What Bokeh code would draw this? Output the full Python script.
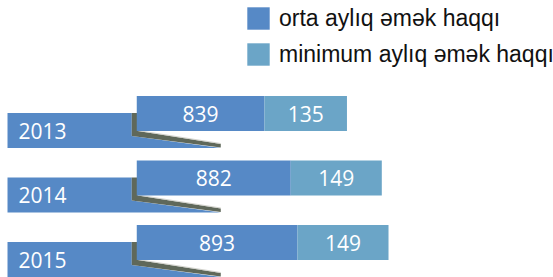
from bokeh.plotting import figure
from bokeh.models import ColumnDataSource, Range1d, Legend, LegendItem
from bokeh.core.properties import value
from bokeh.embed import file_html
from bokeh.resources import INLINE

# ---- data ----
years = [2013, 2014, 2015]
year_labels = ["2013", "2014", "2015"]
avg_wage = [839, 882, 893]      # orta aylıq əmək haqqı
min_wage = [135, 149, 149]      # minimum aylıq əmək haqqı
series_names = ["orta aylıq əmək haqqı", "minimum aylıq əmək haqqı"]

# ---- style / layout ----
AVG_COLOR = "#5689C6"
MIN_COLOR = "#6BA5C7"
SHADOW = "#5F685A"
W, H = 553, 277
X_START, X_END = 407, 1312
BASE = 630                      # axis baseline of the bars
PX = (X_END - X_START) / W      # value units per pixel
ROW = 64.5                      # pixels per year row
PY = 1.0 / ROW
C0 = 113                        # pixel centre of first row
Y_TOP = years[0] - C0 / ROW
Y_BOTTOM = years[0] + (H - C0) / ROW
BAR_H = 35 * PY
BOX_OFF = 17 * PY

total = [a + m for a, m in zip(avg_wage, min_wage)]
src = ColumnDataSource(dict(
    year=years, label=year_labels, avg=avg_wage, mn=min_wage, total=total,
    avg_txt=[str(v) for v in avg_wage], mn_txt=[str(v) for v in min_wage],
    avg_mid=[(BASE + a) / 2 for a in avg_wage],
    mn_mid=[(a + t) / 2 for a, t in zip(avg_wage, total)],
    box_y=[y + BOX_OFF for y in years],
))

p = figure(width=W, height=H, x_range=Range1d(X_START, X_END),
           y_range=Range1d(Y_BOTTOM, Y_TOP), output_backend="svg",
           toolbar_location=None, x_axis_location=None, y_axis_location=None,
           min_border=0, outline_line_color=None)
p.grid.visible = False
p.background_fill_color = "white"

# year label boxes with folded-ribbon shadow
L = X_START + 7 * PX
R = BASE - 5 * PX
S = BASE + 1 * PX
BR = BASE + 84 * PX
box_xs, box_ys, sh_xs, sh_ys, hl_xs, hl_ys = [], [], [], [], [], []
for y in years:
    T = y + BOX_OFF - BAR_H / 2
    box_xs.append([L, R, R, BR, L])
    box_ys.append([T, T, T + 23 * PY, T + 35 * PY, T + 35 * PY])
    sh_xs.append([R, S, S, BR, BR, R])
    sh_ys.append([T, T, T + 18 * PY, T + 31 * PY, T + 34.5 * PY, T + 23 * PY])
    hl_xs.append([S, BR])
    hl_ys.append([T + 17.5 * PY, T + 30.5 * PY])
p.patches(box_xs, box_ys, fill_color=AVG_COLOR, line_color=None)
p.patches(sh_xs, sh_ys, fill_color=SHADOW, line_color=None)
p.multi_line(hl_xs, hl_ys, line_color="#c8c8c0", line_width=1, line_alpha=0.8)

p.text(x=L + 11 * PX, y="box_y", text="label", source=src,
       text_align="left", text_baseline="middle", text_color="white",
       text_font=value("Open Sans"), text_font_size="21px")

r_avg = p.hbar(y="year", left=BASE, right="avg", height=BAR_H, source=src,
               fill_color=AVG_COLOR, line_color=None)
r_min = p.hbar(y="year", left="avg", right="total", height=BAR_H, source=src,
               fill_color=MIN_COLOR, line_color=None)

p.text(x="avg_mid", y="year", text="avg_txt", source=src, text_align="center",
       text_baseline="middle", text_color="white",
       text_font=value("Open Sans"), text_font_size="21px")
p.text(x="mn_mid", y="year", text="mn_txt", source=src, text_align="center",
       text_baseline="middle", text_color="white",
       text_font=value("Open Sans"), text_font_size="21px")

legend = Legend(
    items=[LegendItem(label=series_names[0], renderers=[r_avg]),
           LegendItem(label=series_names[1], renderers=[r_min])],
    location=(244, H - 68), orientation="vertical",
    glyph_width=28, glyph_height=28, label_height=28, spacing=8,
    label_standoff=7, padding=0, margin=0, border_line_color=None,
    background_fill_alpha=0, label_text_font="Liberation Sans",
    label_text_font_size="23px", label_text_color="#111111",
)
p.add_layout(legend)

open("out.html", "w").write(file_html(p, INLINE))
